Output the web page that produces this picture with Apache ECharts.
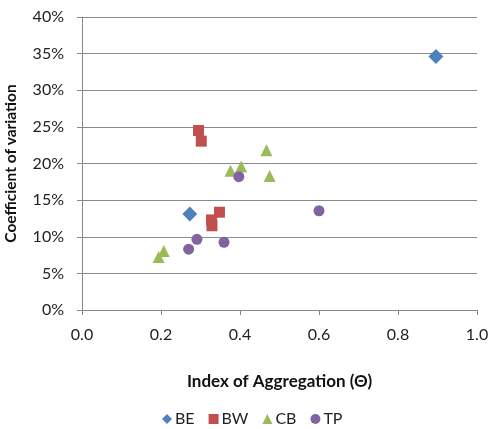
<!DOCTYPE html>
<html><head><meta charset="utf-8">
<script src="https://cdn.jsdelivr.net/npm/echarts@6/dist/echarts.min.js"></script>
<style>html,body{margin:0;padding:0;background:#fff}#c{width:490px;height:429px}</style>
</head><body><div id="c"></div>
<script>
var seriesNames = ['BE', 'BW', 'CB', 'TP'];
var BE = [[0.896, 34.6], [0.273, 13.1]];
var BW = [[0.295, 24.5], [0.302, 23.05], [0.348, 13.35], [0.328, 12.3], [0.329, 11.5]];
var CB = [[0.467, 21.8], [0.403, 19.6], [0.376, 19.0], [0.475, 18.3], [0.207, 8.05], [0.194, 7.25]];
var TP = [[0.397, 18.2], [0.600, 13.55], [0.291, 9.65], [0.270, 8.3], [0.3595, 9.25]];
var xTicks = [0, 0.2, 0.4, 0.6, 0.8, 1.0];
var yTicks = [0, 5, 10, 15, 20, 25, 30, 35, 40];

var font = 'Lato';
var chart = echarts.init(document.getElementById('c'), null, {renderer: 'canvas'});
function mk(name, data, symbol, size, color) {
  return {name: name, type: 'scatter', data: data, symbol: symbol, symbolSize: size,
    itemStyle: {color: color, opacity: 1}};
}
chart.setOption({
  animation: false,
  textStyle: {fontFamily: font},
  grid: {left: 82, right: 13, top: 17, bottom: 119, containLabel: false, outerBoundsMode: 'none'},
  legend: {
    bottom: 2, left: 157, itemWidth: 10, itemHeight: 10, itemGap: 14,
    padding: [5, 5, 0, 5],
    textStyle: {fontSize: 16, color: '#222', fontFamily: font, padding: [0, 0, 0, -2]},
    data: [
      {name: 'BE', icon: 'diamond'},
      {name: 'BW', icon: 'rect'},
      {name: 'CB', icon: 'triangle'},
      {name: 'TP', icon: 'circle'}
    ]
  },
  xAxis: {
    type: 'value', min: xTicks[0], max: xTicks[xTicks.length - 1], interval: 0.2,
    name: 'Index of Aggregation (Θ)', nameLocation: 'middle', nameGap: 63,
    nameTextStyle: {fontSize: 17, fontWeight: 'bold', color: '#111', fontFamily: font},
    axisLine: {show: true, lineStyle: {color: '#888', width: 1}},
    axisTick: {show: true, length: 5, lineStyle: {color: '#888'}},
    splitLine: {show: false},
    axisLabel: {fontSize: 16, color: '#222', margin: 17, formatter: function (v) { return v.toFixed(1); }}
  },
  yAxis: {
    type: 'value', min: yTicks[0], max: yTicks[yTicks.length - 1], interval: 5,
    name: 'Coefficient of variation', nameLocation: 'middle', nameGap: 63, nameRotate: 90,
    nameTextStyle: {fontSize: 15.5, fontWeight: 'bold', color: '#111', fontFamily: font},
    axisLine: {show: true, lineStyle: {color: '#888', width: 1}},
    axisTick: {show: true, length: 5, lineStyle: {color: '#888'}},
    splitLine: {show: true, lineStyle: {color: '#8a8a8a', width: 1}},
    axisLabel: {fontSize: 16, color: '#222', margin: 18, formatter: '{value}%'}
  },
  series: [
    mk('BE', BE, 'diamond', 15, '#4F81BD'),
    mk('BW', BW, 'rect', 11, '#C0504D'),
    mk('CB', CB, 'triangle', 12, '#9BBB59'),
    mk('TP', TP, 'circle', 11, '#8064A2')
  ]
});
</script></body></html>
